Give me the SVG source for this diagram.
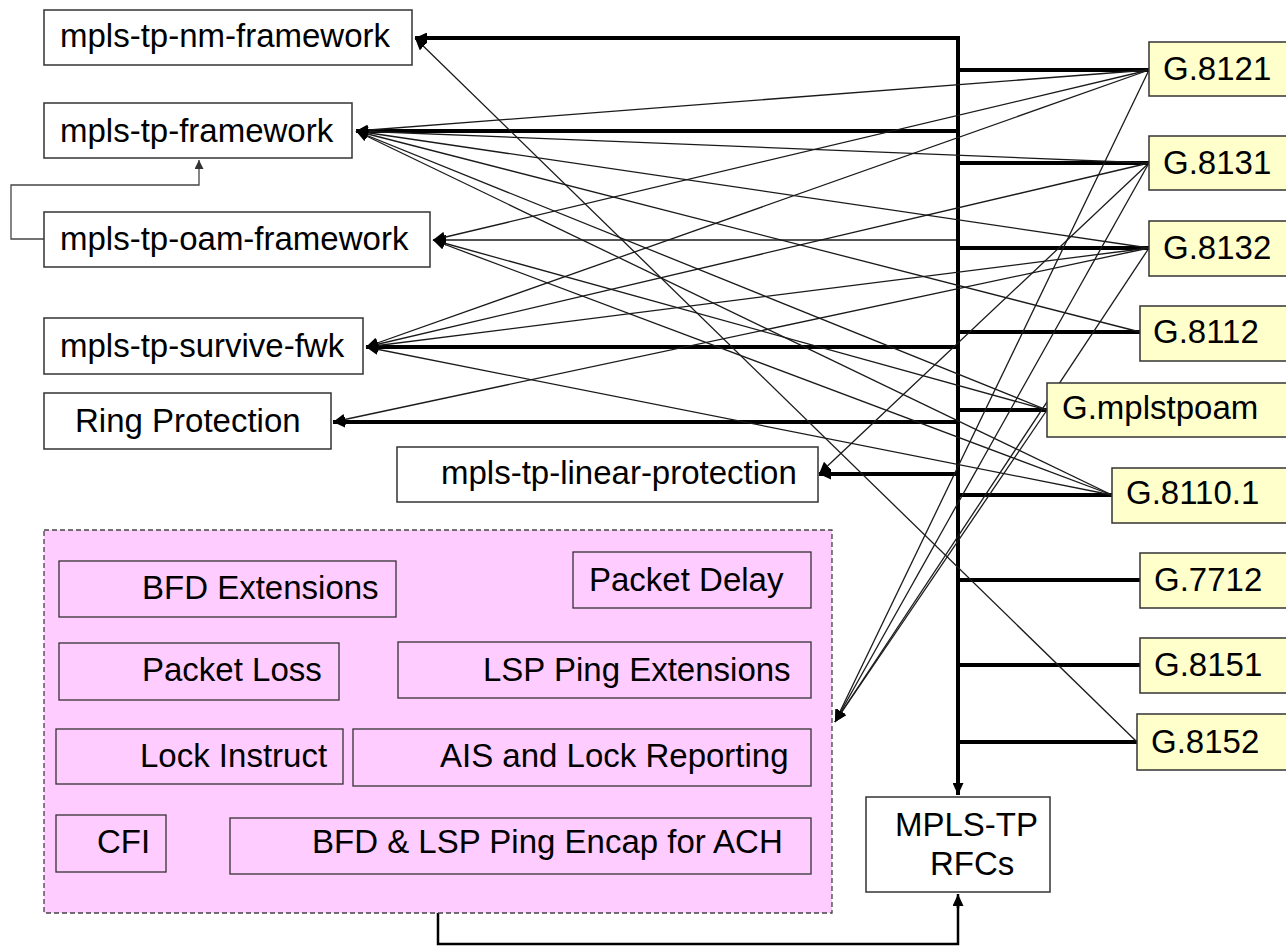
<svg xmlns="http://www.w3.org/2000/svg" width="1286" height="947" viewBox="0 0 1286 947">
<style>
.t{font-family:"Liberation Sans",Arial,sans-serif;font-size:33px;fill:#000}
.wb{fill:#fff;stroke:#333;stroke-width:1.5}
.yb{fill:#FFFFCC;stroke:#333;stroke-width:1.5}
.pb{fill:#FFCCFF;stroke:#333;stroke-width:1.3}
.thin{fill:none;stroke:#1a1a1a;stroke-width:1.3}
.thick{fill:none;stroke:#000;stroke-width:4;stroke-linecap:square}
</style>
<defs>
<marker id="ah" markerUnits="userSpaceOnUse" markerWidth="13" markerHeight="11" refX="12" refY="5.5" orient="auto">
<path d="M0,0 L12,5.5 L0,11 z" fill="#000"/>
</marker>
<marker id="ahs" markerUnits="userSpaceOnUse" markerWidth="10" markerHeight="9" refX="9" refY="4.5" orient="auto">
<path d="M0,0 L9,4.5 L0,9 z" fill="#333"/>
</marker>
</defs>
<rect width="1286" height="947" fill="#fff"/>

<g id="connectors">
<!-- bus -->
<path class="thick" d="M958 38 V784"/>
<path d="M958 780 V795" stroke="#000" stroke-width="4" marker-end="url(#ah)"/>
<!-- left thick branches -->
<path class="thick" d="M958 38 H426" style="stroke-linecap:butt"/>
<path d="M430 38 H415" stroke="#000" stroke-width="4" marker-end="url(#ah)"/>
<path class="thick" d="M956 131 H368" style="stroke-linecap:butt"/>
<path d="M372 131 H356" stroke="#000" stroke-width="4" marker-end="url(#ah)"/>
<path class="thin" d="M956 240 H434" marker-end="url(#ah)"/>
<path class="thick" d="M956 347 H378" style="stroke-linecap:butt"/>
<path d="M382 347 H366" stroke="#000" stroke-width="4" marker-end="url(#ah)"/>
<path class="thick" d="M956 422 H345" style="stroke-linecap:butt"/>
<path d="M349 422 H333" stroke="#000" stroke-width="4" marker-end="url(#ah)"/>
<path class="thick" d="M956 474 H831" style="stroke-linecap:butt"/>
<path d="M835 474 H819" stroke="#000" stroke-width="4" marker-end="url(#ah)"/>
<!-- right thick branches -->
<path class="thick" d="M958 70 H1149" style="stroke-linecap:butt"/>
<path class="thick" d="M958 163 H1149" style="stroke-linecap:butt"/>
<path class="thick" d="M958 248 H1149" style="stroke-linecap:butt"/>
<path class="thick" d="M958 332 H1140" style="stroke-linecap:butt"/>
<path class="thick" d="M958 410 H1047" style="stroke-linecap:butt"/>
<path class="thick" d="M958 495 H1112" style="stroke-linecap:butt"/>
<path class="thick" d="M958 580 H1140" style="stroke-linecap:butt"/>
<path class="thick" d="M958 665 H1140" style="stroke-linecap:butt"/>
<path class="thick" d="M958 742 H1137" style="stroke-linecap:butt"/>
<!-- thin cross links -->
<path class="thin" d="M1149 70 L356 131" marker-end="url(#ah)"/>
<path class="thin" d="M1149 70 L433 240" marker-end="url(#ah)"/>
<path class="thin" d="M1149 70 L366 347" marker-end="url(#ah)"/>
<path class="thin" d="M1149 70 L835 722" marker-end="url(#ah)"/>
<path class="thin" d="M1149 163 L356 131" marker-end="url(#ah)"/>
<path class="thin" d="M1149 163 L366 347" marker-end="url(#ah)"/>
<path class="thin" d="M1149 163 L819 474" marker-end="url(#ah)"/>
<path class="thin" d="M1149 163 L835 722" marker-end="url(#ah)"/>
<path class="thin" d="M1149 248 L356 131" marker-end="url(#ah)"/>
<path class="thin" d="M1149 248 L366 347" marker-end="url(#ah)"/>
<path class="thin" d="M1149 248 L333 422" marker-end="url(#ah)"/>
<path class="thin" d="M1149 248 L835 722" marker-end="url(#ah)"/>
<path class="thin" d="M1140 332 L356 131" marker-end="url(#ah)"/>
<path class="thin" d="M1047 410 L356 131" marker-end="url(#ah)"/>
<path class="thin" d="M1047 410 L433 240" marker-end="url(#ah)"/>
<path class="thin" d="M1047 410 L835 722" marker-end="url(#ah)"/>
<path class="thin" d="M1112 495 L356 131" marker-end="url(#ah)"/>
<path class="thin" d="M1112 495 L433 240" marker-end="url(#ah)"/>
<path class="thin" d="M1112 495 L366 347" marker-end="url(#ah)"/>
<path class="thin" d="M1137 742 L415 38" marker-end="url(#ah)"/>
<!-- oam -> framework -->
<path d="M44 239 H11 V185 H199 V160" fill="none" stroke="#444" stroke-width="1.3" marker-end="url(#ahs)"/>
<!-- container -> RFCs -->
<path d="M438 913 V944 H958 V906" fill="none" stroke="#000" stroke-width="2.5"/>
<path d="M958 908 V894" stroke="#000" stroke-width="2.5" marker-end="url(#ah)"/>
</g>

<g id="n-nm"><rect class="wb" x="44" y="10" width="368" height="55"/><text class="t" x="60" y="47">mpls-tp-nm-framework</text></g>
<g id="n-fw"><rect class="wb" x="44" y="103" width="308" height="55"/><text class="t" x="60" y="142">mpls-tp-framework</text></g>
<g id="n-oam"><rect class="wb" x="44" y="212" width="386" height="55"/><text class="t" x="60" y="250">mpls-tp-oam-framework</text></g>
<g id="n-surv"><rect class="wb" x="44" y="318" width="319" height="56"/><text class="t" x="60" y="357">mpls-tp-survive-fwk</text></g>
<g id="n-ring"><rect class="wb" x="44" y="393" width="287" height="56"/><text class="t" x="75" y="432">Ring Protection</text></g>
<g id="n-lin"><rect class="wb" x="397" y="447" width="421" height="55"/><text class="t" x="441" y="484">mpls-tp-linear-protection</text></g>

<g id="n-g8121"><rect class="yb" x="1149" y="42" width="150" height="54"/><text class="t" x="1163" y="80">G.8121</text></g>
<g id="n-g8131"><rect class="yb" x="1149" y="136" width="150" height="54"/><text class="t" x="1163" y="174">G.8131</text></g>
<g id="n-g8132"><rect class="yb" x="1149" y="221" width="150" height="55"/><text class="t" x="1163" y="259">G.8132</text></g>
<g id="n-g8112"><rect class="yb" x="1140" y="306" width="160" height="55"/><text class="t" x="1153" y="343">G.8112</text></g>
<g id="n-gmpls"><rect class="yb" x="1047" y="383" width="250" height="54"/><text class="t" x="1062" y="419">G.mplstpoam</text></g>
<g id="n-g81101"><rect class="yb" x="1112" y="468" width="190" height="55"/><text class="t" x="1126" y="504">G.8110.1</text></g>
<g id="n-g7712"><rect class="yb" x="1140" y="553" width="160" height="55"/><text class="t" x="1154" y="591">G.7712</text></g>
<g id="n-g8151"><rect class="yb" x="1140" y="638" width="160" height="55"/><text class="t" x="1154" y="676">G.8151</text></g>
<g id="n-g8152"><rect class="yb" x="1137" y="714" width="160" height="56"/><text class="t" x="1151" y="753">G.8152</text></g>

<g id="n-rfcs"><rect class="wb" x="866" y="797" width="184" height="95"/><text class="t" x="895" y="836">MPLS-TP</text><text class="t" x="930" y="875">RFCs</text></g>

<g id="n-oamdocs">
<rect x="44" y="530" width="788" height="383" fill="#FFCCFF" stroke="#444" stroke-width="1.3" stroke-dasharray="5,3"/>
<g id="n-bfd"><rect class="pb" x="59" y="561" width="337" height="56"/><text class="t" x="142" y="599">BFD Extensions</text></g>
<g id="n-pdelay"><rect class="pb" x="573" y="552" width="238" height="56"/><text class="t" x="589" y="591">Packet Delay</text></g>
<g id="n-ploss"><rect class="pb" x="59" y="643" width="280" height="57"/><text class="t" x="142" y="681">Packet Loss</text></g>
<g id="n-lsp"><rect class="pb" x="398" y="642" width="413" height="56"/><text class="t" x="483" y="681">LSP Ping Extensions</text></g>
<g id="n-lock"><rect class="pb" x="56" y="729" width="287" height="55"/><text class="t" x="140" y="767">Lock Instruct</text></g>
<g id="n-ais"><rect class="pb" x="353" y="729" width="458" height="57"/><text class="t" x="440" y="767">AIS and Lock Reporting</text></g>
<g id="n-cfi"><rect class="pb" x="56" y="815" width="110" height="57"/><text class="t" x="97" y="853">CFI</text></g>
<g id="n-encap"><rect class="pb" x="230" y="818" width="581" height="56"/><text class="t" x="312" y="853">BFD &amp; LSP Ping Encap for ACH</text></g>
</g>
</svg>
